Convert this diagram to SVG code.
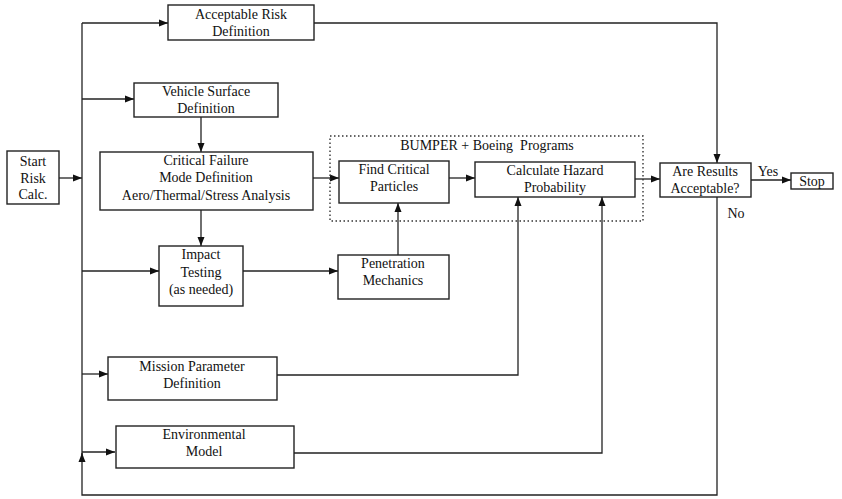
<svg xmlns="http://www.w3.org/2000/svg" width="842" height="499" viewBox="0 0 842 499">
<style>
  .box { fill: #fff; stroke: #222; stroke-width: 1.4; }
  .t { font-family: "Liberation Serif", "Times New Roman", serif; font-size: 14px; fill: #111; text-anchor: middle; }
  .c { fill: none; stroke: #222; stroke-width: 1.3; }
  .dot { fill: none; stroke: #333; stroke-width: 1.4; stroke-dasharray: 1.5 2.5; }
</style>
<defs>
  <marker id="ah" markerWidth="10" markerHeight="8" refX="9" refY="4" orient="auto" markerUnits="userSpaceOnUse">
    <path d="M0,0.5 L9,4 L0,7.5 Z" fill="#111"/>
  </marker>
</defs>
<rect width="842" height="499" fill="#fff"/>

<g id="connectors">
  <path class="c" d="M59,178 H82" marker-end="url(#ah)"/>
  <path class="c" d="M82,23 V455"/>
  <path class="c" d="M82,23 H168" marker-end="url(#ah)"/>
  <path class="c" d="M82,99 H134" marker-end="url(#ah)"/>
  <path class="c" d="M82,271 H159" marker-end="url(#ah)"/>
  <path class="c" d="M82,374 H108" marker-end="url(#ah)"/>
  <path class="c" d="M82,452 H115" marker-end="url(#ah)"/>
  <path class="c" d="M314,23 H717 V163" marker-end="url(#ah)"/>
  <path class="c" d="M201,117 V152" marker-end="url(#ah)"/>
  <path class="c" d="M201,210 V246" marker-end="url(#ah)"/>
  <path class="c" d="M313,178 H339" marker-end="url(#ah)"/>
  <path class="c" d="M449,178 H475" marker-end="url(#ah)"/>
  <path class="c" d="M635,179 H660" marker-end="url(#ah)"/>
  <path class="c" d="M751,180 H791" marker-end="url(#ah)"/>
  <path class="c" d="M243,271 H338" marker-end="url(#ah)"/>
  <path class="c" d="M398,255 V203" marker-end="url(#ah)"/>
  <path class="c" d="M277,375 H518 V197" marker-end="url(#ah)"/>
  <path class="c" d="M294,453 H602 V197" marker-end="url(#ah)"/>
  <path class="c" d="M717,197 V495 H82 V453" marker-end="url(#ah)"/>
</g>

<g id="bumper-group">
  <rect class="dot" x="330" y="136" width="313" height="85"/>
  <text class="t" x="487" y="150" xml:space="preserve">BUMPER + Boeing  Programs</text>
</g>

<g id="start">
  <rect class="box" x="7" y="151" width="52" height="53"/>
  <text class="t" x="33" y="166">Start</text>
  <text class="t" x="33" y="183">Risk</text>
  <text class="t" x="33" y="199">Calc.</text>
</g>

<g id="acceptable-risk">
  <rect class="box" x="168" y="5" width="146" height="35"/>
  <text class="t" x="241" y="19">Acceptable Risk</text>
  <text class="t" x="241" y="36">Definition</text>
</g>

<g id="vehicle-surface">
  <rect class="box" x="134" y="83" width="144" height="34"/>
  <text class="t" x="206" y="96">Vehicle Surface</text>
  <text class="t" x="206" y="113">Definition</text>
</g>

<g id="critical-failure">
  <rect class="box" x="100" y="152" width="213" height="58"/>
  <text class="t" x="206" y="165">Critical Failure</text>
  <text class="t" x="206" y="182">Mode Definition</text>
  <text class="t" x="206" y="200">Aero/Thermal/Stress Analysis</text>
</g>

<g id="find-critical">
  <rect class="box" x="339" y="161" width="110" height="42"/>
  <text class="t" x="394" y="174">Find Critical</text>
  <text class="t" x="394" y="191">Particles</text>
</g>

<g id="calculate-hazard">
  <rect class="box" x="475" y="162" width="160" height="35"/>
  <text class="t" x="555" y="175">Calculate Hazard</text>
  <text class="t" x="555" y="192">Probability</text>
</g>

<g id="are-results">
  <rect class="box" x="660" y="163" width="91" height="34"/>
  <text class="t" x="705" y="176">Are Results</text>
  <text class="t" x="705" y="193">Acceptable?</text>
  <text class="t" x="768" y="176">Yes</text>
  <text class="t" x="736" y="218">No</text>
</g>

<g id="stop">
  <rect class="box" x="791" y="173" width="42" height="16"/>
  <text class="t" x="812" y="186">Stop</text>
</g>

<g id="impact-testing">
  <rect class="box" x="159" y="246" width="84" height="60"/>
  <text class="t" x="201" y="259">Impact</text>
  <text class="t" x="201" y="277">Testing</text>
  <text class="t" x="201" y="294">(as needed)</text>
</g>

<g id="penetration">
  <rect class="box" x="338" y="255" width="111" height="44"/>
  <text class="t" x="393" y="268">Penetration</text>
  <text class="t" x="393" y="285">Mechanics</text>
</g>

<g id="mission-parameter">
  <rect class="box" x="108" y="357" width="169" height="43"/>
  <text class="t" x="192" y="371">Mission Parameter</text>
  <text class="t" x="192" y="388">Definition</text>
</g>

<g id="environmental">
  <rect class="box" x="116" y="426" width="178" height="42"/>
  <text class="t" x="204" y="439">Environmental</text>
  <text class="t" x="204" y="456">Model</text>
</g>
</svg>
